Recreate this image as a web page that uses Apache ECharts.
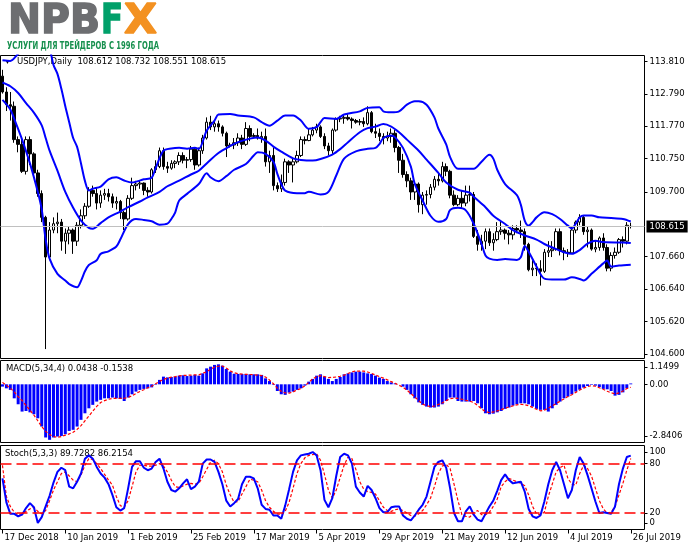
<!DOCTYPE html>
<html>
<head>
<meta charset="utf-8">
<script src="https://cdn.jsdelivr.net/npm/echarts@6/dist/echarts.min.js"></script>
<style>
html, body { margin: 0; padding: 0; background: #fff; }
#chart { width: 691px; height: 549px; }
</style>
</head>
<body>
<div id="chart"></div>
<script>
var symbolName = 'USDJPY,Daily';
var xLabels = ['17 Dec 2018', '10 Jan 2019', '1 Feb 2019', '25 Feb 2019', '17 Mar 2019', '5 Apr 2019',
    '29 Apr 2019', '21 May 2019', '12 Jun 2019', '4 Jul 2019', '26 Jul 2019'];
var labelStep = 16;
var slotCount = 164;

var openP = [
    113.35, 112.85, 112.45, 112.40, 111.35, 111.20, 110.35, 111.35, 110.90, 110.30,
    109.65, 108.90, 107.65, 108.50, 108.70, 108.75, 108.15, 108.40, 108.50, 108.15,
    108.65, 108.95, 109.25, 109.75, 109.65, 109.35, 109.60, 109.65, 109.55, 109.35,
    109.40, 109.05, 108.85, 109.50, 109.90, 109.95, 109.98, 109.75, 109.70, 110.40,
    110.50, 111.00, 110.50, 110.45, 110.60, 110.65, 110.85, 110.70, 110.72, 111.05,
    110.55, 111.00, 111.40, 111.90, 111.75, 111.85, 111.75, 111.55, 111.15, 111.18,
    111.25, 111.40, 111.20, 111.70, 111.45, 111.48, 111.40, 111.45, 110.65, 110.85,
    109.90, 109.80, 110.00, 110.65, 110.55, 110.65, 110.85, 111.35, 111.32, 111.50,
    111.65, 111.75, 111.45, 111.15, 111.00, 111.65, 112.00, 112.02, 112.05, 112.00,
    111.95, 111.90, 111.92, 111.85, 112.20, 111.60, 111.55, 111.45, 111.40, 111.45,
    111.55, 111.10, 110.70, 110.25, 110.05, 109.70, 109.95, 109.30, 109.60, 109.62,
    109.85, 110.10, 110.05, 110.50, 110.35, 109.60, 109.30, 109.50, 109.35, 109.60,
    109.62, 108.30, 108.05, 108.15, 108.45, 108.10, 108.20, 108.45, 108.50, 108.40,
    108.35, 108.55, 108.50, 108.45, 108.05, 107.25, 107.30, 107.28, 107.20, 107.80,
    107.85, 107.90, 108.45, 107.85, 107.80, 107.78, 108.50, 108.75, 108.90, 108.45,
    108.50, 107.90, 107.95, 108.25, 107.95, 107.30, 107.70, 107.80, 108.20, 108.15,
    108.612
];
var highP = [
    113.55, 113.00, 112.85, 112.55, 111.45, 111.40, 111.45, 111.45, 110.95, 110.40,
    109.75, 108.95, 108.75, 108.90, 109.05, 108.85, 108.55, 108.60, 108.55, 108.75,
    109.15, 109.35, 109.85, 109.90, 109.85, 109.75, 109.80, 109.80, 109.65, 109.55,
    109.45, 109.10, 109.60, 110.15, 110.05, 110.05, 110.00, 109.85, 110.45, 110.70,
    111.10, 111.10, 110.65, 110.70, 110.70, 110.95, 110.95, 110.80, 111.15, 111.10,
    111.10, 111.50, 112.05, 112.10, 111.95, 111.95, 111.80, 111.60, 111.25, 111.40,
    111.55, 111.50, 111.90, 111.80, 111.55, 111.70, 111.60, 111.70, 111.00, 111.10,
    110.00, 110.25, 110.75, 110.70, 110.75, 111.00, 111.45, 111.45, 111.70, 111.75,
    111.85, 111.80, 111.55, 111.25, 111.70, 112.05, 112.10, 112.15, 112.15, 112.05,
    112.00, 112.00, 112.05, 112.40, 112.25, 111.85, 111.70, 111.55, 111.60, 111.70,
    111.65, 111.15, 110.90, 110.35, 110.15, 110.05, 110.00, 109.70, 109.75, 109.95,
    110.20, 110.30, 110.65, 110.60, 110.40, 109.75, 109.60, 109.75, 109.90, 109.90,
    109.70, 108.50, 108.35, 108.55, 108.55, 108.40, 108.75, 108.80, 108.55, 108.50,
    108.65, 108.65, 108.80, 108.55, 108.10, 107.55, 107.45, 107.55, 107.90, 108.15,
    108.15, 108.55, 108.55, 107.95, 107.90, 108.60, 108.80, 109.00, 108.95, 108.60,
    108.55, 108.15, 108.30, 108.40, 108.05, 107.80, 107.95, 108.25, 108.30, 108.75,
    108.732
];
var lowP = [
    112.80, 112.25, 111.95, 111.25, 110.95, 110.30, 110.25, 110.55, 110.20, 109.55,
    108.75, 104.75, 107.55, 108.40, 108.40, 107.85, 107.75, 108.05, 107.75, 108.00,
    108.55, 108.85, 109.20, 109.55, 109.15, 109.20, 109.45, 109.40, 109.20, 109.15,
    108.85, 108.50, 108.80, 109.45, 109.75, 109.80, 109.60, 109.55, 109.65, 110.30,
    110.45, 110.40, 110.30, 110.40, 110.45, 110.55, 110.60, 110.45, 110.65, 110.40,
    110.50, 110.90, 111.35, 111.65, 111.60, 111.60, 111.45, 110.80, 111.10, 111.05,
    111.15, 111.05, 111.15, 111.30, 111.40, 111.35, 111.25, 110.50, 110.30, 109.75,
    109.70, 109.70, 109.90, 110.30, 110.00, 110.60, 110.80, 111.20, 111.30, 111.45,
    111.55, 111.40, 111.05, 110.85, 110.90, 111.60, 111.90, 111.85, 111.95, 111.70,
    111.85, 111.80, 111.75, 111.80, 111.55, 111.40, 111.30, 111.20, 111.30, 111.25,
    110.95, 110.30, 110.15, 109.85, 109.45, 109.45, 109.05, 109.00, 109.30, 109.50,
    109.75, 109.90, 110.00, 110.20, 109.50, 109.25, 109.25, 109.20, 109.25, 109.40,
    108.25, 107.85, 107.85, 107.90, 108.00, 107.85, 108.15, 108.35, 108.20, 108.05,
    108.20, 108.40, 108.25, 107.85, 107.20, 107.05, 107.05, 106.75, 107.15, 107.65,
    107.65, 107.85, 107.70, 107.55, 107.65, 107.75, 108.40, 108.65, 108.35, 107.95,
    107.85, 107.80, 107.85, 107.85, 107.20, 107.20, 107.60, 107.75, 107.95, 108.05,
    108.551
];
var closeP = [
    112.85, 112.45, 112.40, 111.35, 111.20, 110.35, 111.35, 110.90, 110.30, 109.65,
    108.90, 107.65, 108.50, 108.70, 108.75, 108.15, 108.40, 108.50, 108.15, 108.65,
    108.95, 109.25, 109.75, 109.65, 109.35, 109.60, 109.65, 109.55, 109.35, 109.40,
    109.05, 108.85, 109.50, 109.90, 109.95, 109.98, 109.75, 109.70, 110.40, 110.50,
    111.00, 110.50, 110.45, 110.60, 110.65, 110.85, 110.70, 110.72, 111.05, 110.55,
    111.00, 111.40, 111.90, 111.75, 111.85, 111.75, 111.55, 111.15, 111.18, 111.25,
    111.40, 111.20, 111.70, 111.45, 111.48, 111.40, 111.45, 110.65, 110.85, 109.90,
    109.80, 110.00, 110.65, 110.55, 110.65, 110.85, 111.35, 111.32, 111.50, 111.65,
    111.75, 111.45, 111.15, 111.00, 111.65, 112.00, 112.02, 112.05, 112.00, 111.95,
    111.90, 111.92, 111.85, 112.20, 111.60, 111.55, 111.45, 111.40, 111.45, 111.55,
    111.10, 110.70, 110.25, 110.05, 109.70, 109.95, 109.30, 109.60, 109.62, 109.85,
    110.10, 110.05, 110.50, 110.35, 109.60, 109.30, 109.50, 109.35, 109.60, 109.62,
    108.30, 108.05, 108.15, 108.45, 108.10, 108.20, 108.45, 108.50, 108.40, 108.35,
    108.55, 108.50, 108.45, 108.05, 107.25, 107.30, 107.28, 107.20, 107.80, 107.85,
    107.90, 108.45, 107.85, 107.80, 107.78, 108.50, 108.75, 108.90, 108.45, 108.50,
    107.90, 107.95, 108.25, 107.95, 107.30, 107.70, 107.80, 108.20, 108.15, 108.65,
    108.615
];

// Bollinger bands as [bar, price]
var upperBand = [[0, 113.85], [2, 113.83], [4, 114.05], [7, 114.35], [10, 114.6], [12, 114.2], [13, 113.7],
    [14, 113.42], [15, 112.95], [16, 112.4], [17, 111.9], [18, 111.4], [19, 111.12], [20, 110.6], [21, 110.05],
    [22, 109.75], [23, 109.8], [25, 109.87], [27, 110.1], [29, 110.16], [31, 110.06], [33, 110.0], [36, 110.1],
    [38, 110.15], [39, 110.45], [41, 111.0], [43, 111.07], [45, 111.09], [47, 111.06], [49, 111.09], [50, 111.06],
    [52, 111.63], [54, 111.95], [55, 112.14], [58, 112.16], [60, 112.11], [64, 112.05], [66, 111.9], [68, 111.79],
    [70, 111.95], [72, 112.11], [74, 112.11], [76, 111.95], [78, 111.69], [80, 111.74], [81, 111.9], [82, 112.03],
    [85, 112.0], [87, 112.14], [91, 112.24], [93, 112.35], [96, 112.37], [97, 112.24], [99, 112.21], [101, 112.24],
    [103, 112.45], [105, 112.56], [106, 112.56], [108, 112.45], [110, 112.05], [111, 111.7], [113, 111.2],
    [114, 110.8], [116, 110.43], [120, 110.43], [122, 110.65], [124, 110.87], [125, 110.75], [126, 110.4],
    [128, 109.95], [131, 109.6], [132, 109.3], [133, 108.8], [134, 108.64], [135, 108.75], [136, 108.9],
    [138, 109.06], [140, 109.0], [142, 108.85], [144, 108.64], [145, 108.55], [146, 108.7], [147, 108.9],
    [148, 108.96], [150, 108.96], [152, 108.9], [155, 108.88], [158, 108.85], [160, 108.77]];
var middleBand = [[0, 113.15], [2, 113.03], [4, 112.82], [6, 112.5], [8, 112.2], [10, 111.8], [11, 111.4],
    [12, 111.0], [14, 110.37], [16, 109.7], [18, 109.2], [20, 108.8], [22, 108.57], [23, 108.54], [25, 108.72],
    [27, 108.9], [30, 109.08], [32, 109.22], [35, 109.4], [37, 109.53], [40, 109.7], [42, 109.88], [45, 110.06],
    [48, 110.25], [50, 110.37], [52, 110.6], [55, 110.93], [58, 111.15], [60, 111.27], [63, 111.38], [65, 111.42],
    [67, 111.32], [69, 111.13], [71, 110.97], [74, 110.76], [76, 110.71], [79, 110.69], [81, 110.74], [84, 110.88],
    [86, 111.05], [88, 111.27], [91, 111.58], [93, 111.71], [95, 111.76], [97, 111.84], [99, 111.76], [101, 111.58],
    [103, 111.35], [106, 111.0], [108, 110.72], [111, 110.3], [113, 110.0], [116, 109.77], [119, 109.68],
    [120, 109.55], [123, 109.22], [125, 108.95], [128, 108.69], [130, 108.5], [133, 108.33], [136, 108.2],
    [138, 108.06], [141, 107.9], [143, 107.8], [145, 107.75], [147, 107.87], [149, 108.07], [151, 108.16],
    [153, 108.12], [156, 108.11], [158, 108.11], [160, 108.09]];
var lowerBand = [[0, 112.6], [2, 112.3], [3, 112.0], [5, 111.35], [7, 110.6], [9, 109.7], [10, 109.15], [11, 108.2],
    [12, 107.6], [14, 107.12], [16, 106.91], [17, 106.8], [19, 106.7], [20, 106.9], [21, 107.2], [22, 107.4],
    [24, 107.55], [25, 107.75], [27, 107.83], [29, 107.98], [30, 108.2], [32, 108.69], [34, 108.85], [36, 108.82],
    [38, 108.78], [40, 108.67], [42, 108.7], [43, 108.85], [44, 109.06], [45, 109.43], [47, 109.64], [50, 109.95],
    [52, 110.29], [53, 110.16], [55, 110.04], [57, 110.2], [59, 110.4], [62, 110.58], [64, 110.85], [65, 110.95],
    [67, 110.9], [69, 110.65], [70, 110.27], [71, 109.95], [72, 109.74], [75, 109.66], [77, 109.66], [78, 109.71],
    [81, 109.62], [83, 109.7], [85, 110.22], [87, 110.75], [90, 110.98], [93, 111.06], [95, 111.09], [96, 111.21],
    [97, 111.4], [99, 111.48], [100, 111.42], [102, 111.09], [104, 110.5], [105, 109.95], [107, 109.43],
    [109, 108.95], [111, 108.76], [113, 108.85], [114, 109.13], [116, 109.2], [118, 109.12], [120, 108.7],
    [122, 108.06], [123, 107.7], [124, 107.6], [126, 107.56], [128, 107.59], [131, 107.56], [132, 107.64],
    [133, 108.0], [134, 107.82], [136, 107.35], [138, 106.97], [141, 106.94], [143, 106.94], [145, 107.01],
    [147, 106.96], [148, 106.91], [150, 107.12], [153, 107.45], [154, 107.54], [155, 107.35], [157, 107.38],
    [160, 107.41]];

var macdHist = [
    -0.12, -0.21, -0.29, -0.73, -1.04, -1.42, -1.39, -1.46, -1.56, -1.77,
    -2.20, -2.77, -2.89, -2.77, -2.72, -2.69, -2.60, -2.43, -2.37, -2.20,
    -1.85, -1.51, -1.25, -1.07, -0.90, -0.81, -0.73, -0.73, -0.69, -0.73,
    -0.76, -0.87, -0.69, -0.52, -0.38, -0.29, -0.24, -0.21, -0.16, -0.03,
    0.23, 0.40, 0.36, 0.38, 0.40, 0.45, 0.47, 0.43, 0.45, 0.49,
    0.45, 0.57, 0.83, 0.92, 1.01, 1.04, 0.97, 0.80, 0.66, 0.55,
    0.54, 0.54, 0.54, 0.52, 0.52, 0.52, 0.49, 0.31, 0.17, -0.03,
    -0.35, -0.52, -0.55, -0.43, -0.38, -0.29, -0.21, -0.07, 0.14, 0.28,
    0.45, 0.52, 0.40, 0.28, 0.17, 0.28, 0.38, 0.52, 0.57, 0.62,
    0.66, 0.66, 0.62, 0.57, 0.54, 0.45, 0.35, 0.28, 0.17, 0.10,
    0.05, 0.00, -0.12, -0.29, -0.52, -0.73, -0.94, -1.07, -1.16, -1.21,
    -1.21, -1.16, -1.04, -0.87, -0.69, -0.69, -0.87, -0.90, -0.90, -0.90,
    -0.87, -0.99, -1.25, -1.51, -1.56, -1.53, -1.46, -1.39, -1.28, -1.21,
    -1.11, -1.04, -0.99, -0.99, -1.04, -1.16, -1.28, -1.33, -1.33, -1.42,
    -1.25, -1.07, -0.90, -0.73, -0.64, -0.52, -0.38, -0.28, -0.17, -0.09,
    -0.03, -0.07, -0.14, -0.24, -0.26, -0.35, -0.59, -0.55, -0.42, -0.21,
    0.0438
];
var macdSignal = [
    0.10, -0.05, -0.20, -0.40, -0.65, -0.85, -1.10, -1.35, -1.60, -1.90,
    -2.20, -2.45, -2.62, -2.72, -2.76, -2.72, -2.65, -2.58, -2.50, -2.35,
    -2.15, -1.90, -1.65, -1.40, -1.15, -0.95, -0.85, -0.78, -0.74, -0.73,
    -0.73, -0.73, -0.68, -0.60, -0.48, -0.37, -0.28, -0.18, -0.10, 0.03,
    0.15, 0.26, 0.32, 0.37, 0.40, 0.44, 0.46, 0.47, 0.48, 0.49,
    0.49, 0.57, 0.66, 0.78, 0.90, 0.94, 0.95, 0.85, 0.70, 0.60,
    0.55, 0.53, 0.52, 0.51, 0.50, 0.48, 0.45, 0.38, 0.22, 0.03,
    -0.20, -0.36, -0.45, -0.46, -0.40, -0.30, -0.22, -0.08, 0.10, 0.28,
    0.40, 0.45, 0.40, 0.35, 0.36, 0.38, 0.42, 0.48, 0.56, 0.65,
    0.69, 0.69, 0.69, 0.64, 0.57, 0.48, 0.40, 0.32, 0.23, 0.14,
    0.05, -0.05, -0.15, -0.30, -0.48, -0.66, -0.85, -1.03, -1.12, -1.16,
    -1.13, -1.05, -0.97, -0.85, -0.75, -0.72, -0.73, -0.78, -0.83, -0.88,
    -0.95, -1.10, -1.28, -1.42, -1.48, -1.44, -1.38, -1.32, -1.25, -1.18,
    -1.12, -1.07, -1.04, -1.06, -1.12, -1.20, -1.30, -1.38, -1.35, -1.24,
    -1.12, -1.00, -0.88, -0.76, -0.64, -0.54, -0.42, -0.30, -0.20, -0.12,
    -0.07, -0.10, -0.18, -0.26, -0.36, -0.44, -0.50, -0.45, -0.35, -0.22,
    -0.1538
];
var macdLevels = [1.1499, 0, -2.8406];

var stochK = [
    62, 33, 19, 19, 16, 18, 26, 32, 27, 8,
    15, 28, 41, 57, 70, 75, 72, 52, 50, 58,
    68, 86, 90, 86, 76, 68, 63, 55, 42, 27,
    23, 26, 50, 76, 83, 83, 75, 72, 74, 82,
    86, 74, 58, 48, 46, 50, 56, 61, 49, 52,
    58, 80, 85, 85, 82, 70, 55, 35, 28, 32,
    37, 55, 64, 64, 62, 50, 30, 25, 24, 17,
    17, 13, 29, 49, 70, 84, 90, 91, 92, 94,
    90, 72, 36, 27, 38, 65, 88, 92, 90, 80,
    52, 45, 40, 53, 48, 38, 26, 21, 21, 27,
    28, 28, 17, 13, 11, 17, 24, 30, 40, 58,
    76, 82, 84, 75, 50, 20, 10, 10, 22, 28,
    18, 12, 10, 19, 28, 35, 47, 60, 67, 60,
    56, 57, 58, 46, 25, 16, 14, 17, 34, 55,
    72, 82, 72, 55, 38, 48, 72, 88, 80, 66,
    50, 34, 20, 21, 20, 19, 28, 55, 74, 88,
    89.7282
];
var stochD = [
    78, 40, 28, 21, 18, 19, 22, 25, 27, 22,
    19, 23, 35, 48, 58, 68, 70, 65, 60, 58,
    66, 78, 86, 85, 80, 74, 67, 60, 54, 40,
    29, 27, 35, 52, 70, 78, 78, 77, 77, 78,
    80, 77, 70, 60, 52, 51, 53, 55, 56, 55,
    56, 64, 73, 82, 84, 80, 70, 54, 42, 33,
    34, 43, 52, 61, 60, 58, 48, 35, 27, 22,
    19, 18, 22, 33, 50, 68, 80, 87, 90, 91,
    92, 84, 67, 48, 38, 48, 63, 78, 88, 86,
    73, 58, 49, 46, 45, 43, 35, 27, 23, 22,
    24, 25, 23, 20, 17, 16, 19, 23, 30, 38,
    52, 68, 77, 79, 74, 55, 35, 18, 16, 15,
    20, 23, 18, 18, 21, 28, 37, 52, 58, 62,
    60, 58, 56, 53, 42, 28, 19, 18, 21, 40,
    55, 70, 75, 78, 62, 55, 54, 68, 78, 74,
    65, 50, 35, 25, 20, 21, 28, 42, 56, 72,
    86.2154
];
var stochLevels = [100, 80, 20, 0];
var stochDashLevels = [80, 20];

var priceTicks = [104.600, 105.620, 106.640, 107.660, 109.700, 110.750, 111.770, 112.790, 113.810];

var FONT = 'DejaVu Sans';
var FS = 8.5;

var chart = echarts.init(document.getElementById('chart'));

var categories = [];
for (var i = 0; i < slotCount; i++) {
    var k = i / labelStep;
    categories.push(i % labelStep === 0 && k < xLabels.length ? xLabels[k] : '');
}
var isLabelSlot = function (index) {
    return index % labelStep === 0 && index / labelStep < xLabels.length;
};

var panels = [
    { top: 55.5, height: 303, min: 104.453, max: 114.0 },
    { top: 360.5, height: 82, min: -3.031, max: 1.24 },
    { top: 445.5, height: 84, min: 0, max: 102 }
];

// keep the extreme labels of an indicator window a few pixels inside it, as the terminal does
var insideLabel = function (v, p) {
    var pad = 6.5 * (p.max - p.min) / p.height;
    return Math.max(p.min + pad, Math.min(p.max - pad, v));
};
var macdLabelAt = macdLevels.map(function (v) { return insideLabel(v, panels[1]); });
var stochLabelAt = stochLevels.map(function (v) { return insideLabel(v, panels[2]); });
var pick = function (positions, texts) {
    return function (v) {
        var best = 0;
        positions.forEach(function (p, n) {
            if (Math.abs(p - v) < Math.abs(positions[best] - v)) best = n;
        });
        return texts[best];
    };
};

var candles = openP.map(function (o, n) {
    return [o, closeP[n], lowP[n], highP[n]];
});

var textWidth = function (str, font) {
    var ctx = document.createElement('canvas').getContext('2d');
    ctx.font = font;
    return ctx.measureText(str).width;
};
var fitText = function (str, x, y, size, fill, width, heavy) {
    var w = textWidth(str, 'bold ' + size + 'px "DejaVu Sans"');
    return {
        type: 'text', x: x, y: y, scaleX: width / w, silent: true,
        style: {
            text: str, fontSize: size, fontWeight: 'bold', fontFamily: 'DejaVu Sans', fill: fill,
            stroke: heavy ? fill : null, lineWidth: heavy || 0, verticalAlign: 'middle'
        }
    };
};
var label = function (str, x, y) {
    return {
        type: 'text', x: x, y: y, silent: true,
        style: { text: str, fontSize: FS, fontFamily: FONT, fill: '#000', verticalAlign: 'middle' }
    };
};

var last = openP.length - 1;
var headerMain = symbolName + '  ' + [openP[last], highP[last], lowP[last], closeP[last]].map(function (v) {
    return v.toFixed(3);
}).join(' ');
var headerMacd = 'MACD(5,34,4) ' + macdHist[last].toFixed(4) + ' ' + macdSignal[last].toFixed(4);
var headerStoch = 'Stoch(5,3,3) ' + stochK[last].toFixed(4) + ' ' + stochD[last].toFixed(4);

var gridOf = function (p) {
    return { left: 0.5, width: 644, top: p.top, height: p.height, show: true, borderColor: '#000', borderWidth: 1, backgroundColor: '#fff' };
};
var xAxisOf = function (n, shown) {
    return {
        type: 'category', gridIndex: n, data: categories, boundaryGap: true,
        axisLine: { show: false },
        axisTick: shown ? { show: true, interval: isLabelSlot, alignWithLabel: true, length: 4, lineStyle: { color: '#000' } } : { show: false },
        axisLabel: shown ? {
            show: true, interval: isLabelSlot, align: 'left', margin: 4, padding: [0, 0, 0, 2],
            color: '#000', fontSize: FS, fontFamily: FONT
        } : { show: false },
        splitLine: { show: false }
    };
};
var yAxisOf = function (n, values, formatter) {
    return {
        type: 'value', gridIndex: n, position: 'right', min: panels[n].min, max: panels[n].max, scale: true,
        axisLine: { show: false },
        axisTick: { show: true, length: 3, customValues: values, lineStyle: { color: '#000' } },
        axisLabel: { show: true, customValues: values, formatter: formatter, margin: 5, color: '#000', fontSize: FS, fontFamily: FONT },
        splitLine: { show: false }
    };
};

var option = {
    animation: false,
    backgroundColor: '#fff',
    grid: panels.map(gridOf),
    xAxis: [xAxisOf(0, false), xAxisOf(1, false), xAxisOf(2, true)],
    yAxis: [
        yAxisOf(0, priceTicks, function (v) { return v.toFixed(3); }),
        yAxisOf(1, macdLabelAt, pick(macdLabelAt, macdLevels.map(function (v) { return v === 0 ? '0.00' : v.toFixed(4); }))),
        yAxisOf(2, stochLabelAt, pick(stochLabelAt, stochLevels.map(String)))
    ],
    series: [
        {
            type: 'candlestick', xAxisIndex: 0, yAxisIndex: 0, data: candles, barWidth: 3,
            itemStyle: { color: '#fff', color0: '#000', borderColor: '#000', borderColor0: '#000', borderWidth: 1 },
            markLine: {
                silent: true, symbol: 'none', animation: false,
                lineStyle: { color: '#c0c0c0', type: 'solid', width: 1 },
                label: {
                    show: true, position: 'end', distance: 2, formatter: closeP[last].toFixed(3),
                    color: '#fff', backgroundColor: '#000', padding: [2, 3, 1, 3], fontSize: FS, fontFamily: FONT
                },
                data: [{ yAxis: closeP[last] }]
            }
        },
        { type: 'line', xAxisIndex: 0, yAxisIndex: 0, data: upperBand, symbol: 'none', smooth: 0.3, lineStyle: { color: '#0000ff', width: 2 } },
        { type: 'line', xAxisIndex: 0, yAxisIndex: 0, data: middleBand, symbol: 'none', smooth: 0.3, lineStyle: { color: '#0000ff', width: 2 } },
        { type: 'line', xAxisIndex: 0, yAxisIndex: 0, data: lowerBand, symbol: 'none', smooth: 0.3, lineStyle: { color: '#0000ff', width: 2 } },
        { type: 'bar', xAxisIndex: 1, yAxisIndex: 1, data: macdHist, barWidth: 3, itemStyle: { color: '#0000ff' } },
        { type: 'line', xAxisIndex: 1, yAxisIndex: 1, data: macdSignal, symbol: 'none', lineStyle: { color: '#ff0000', width: 1.2, type: [3, 2] } },
        {
            type: 'line', xAxisIndex: 2, yAxisIndex: 2, data: stochD, symbol: 'none', z: 3, color: '#ff0000',
            lineStyle: { color: '#ff0000', width: 1.2, type: [3, 2] },
            markLine: {
                silent: true, symbol: 'none', animation: false, label: { show: false },
                lineStyle: { color: '#ff0000', width: 1.6, type: [11, 5] },
                data: stochDashLevels.map(function (v) { return { yAxis: v }; })
            }
        },
        { type: 'line', xAxisIndex: 2, yAxisIndex: 2, data: stochK, symbol: 'none', z: 4, lineStyle: { color: '#0000ff', width: 2 } }
    ],
    graphic: [
        fitText('NPB', 8, 22.5, 40, '#6d6e71', 92, 1.5),
        fitText('F', 101, 22.5, 40, '#00a06a', 22, 1.5),
        fitText('X', 124, 22.5, 40, '#f39121', 33, 1.5),
        fitText('УСЛУГИ ДЛЯ ТРЕЙДЕРОВ С 1996 ГОДА', 7, 46, 11, '#17904e', 152, 0),
        { type: 'text', x: 4, y: 62, silent: true, style: { text: '▼', fontSize: 7, fill: '#000', verticalAlign: 'middle' } },
        label(headerMain, 17, 62),
        label(headerMacd, 6, 369),
        label(headerStoch, 5, 454)
    ]
};
chart.setOption(option);
</script>
</body>
</html>
